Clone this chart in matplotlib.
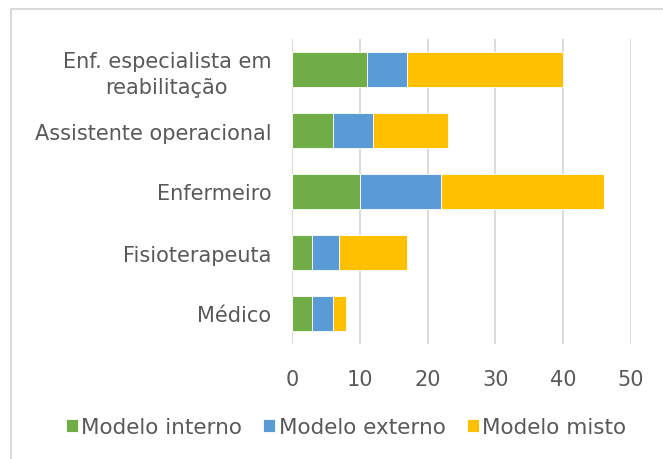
import matplotlib
matplotlib.use("Agg")
import matplotlib.pyplot as plt
from matplotlib.lines import Line2D

categories = ["Enf. especialista em\nreabilitação", "Assistente operacional",
              "Enfermeiro", "Fisioterapeuta", "Médico"]
interno = [11, 6, 10, 3, 3]
externo = [6, 6, 12, 4, 3]
misto = [23, 11, 24, 10, 2]
series_names = ["Modelo interno", "Modelo externo", "Modelo misto"]
xticks = [0, 10, 20, 30, 40, 50]

GREEN, BLUE, YELLOW = "#70ad47", "#5b9bd5", "#ffc000"
TXT = "#595959"

fig = plt.figure(figsize=(6.63, 4.6), dpi=100)
ax = fig.add_axes([292 / 663, 1 - 345 / 460, (631 - 292) / 663, (345 - 40) / 460])

ypos = list(range(len(categories)))[::-1]
left2 = [a + b for a, b in zip(interno, externo)]
h = 0.57
ax.barh(ypos, interno, height=h, color=GREEN, edgecolor="white", linewidth=0.6, label=series_names[0], zorder=3)
ax.barh(ypos, externo, left=interno, height=h, color=BLUE, edgecolor="white", linewidth=0.6, label=series_names[1], zorder=3)
ax.barh(ypos, misto, left=left2, height=h, color=YELLOW, edgecolor="white", linewidth=0.6, label=series_names[2], zorder=3)

ax.set_xlim(0, 50)
ax.set_ylim(-0.5, len(categories) - 0.5)
ax.set_xticks(xticks)
ax.set_yticks(ypos)
ax.set_yticklabels(categories, ha="right", multialignment="center", linespacing=1.35)
ax.tick_params(axis="y", length=0, pad=15, labelsize=15, labelcolor=TXT)
ax.tick_params(axis="x", length=0, pad=18, labelsize=15, labelcolor=TXT)
ax.grid(axis="x", color="#d9d9d9", linewidth=1.3, zorder=0)
for s in ax.spines.values():
    s.set_visible(False)

leg = fig.legend(loc="center", bbox_to_anchor=(346 / 663, 1 - 428 / 460), ncol=3,
                 frameon=False, fontsize=15.5, handlelength=0.55, handleheight=0.55,
                 handletextpad=0.15, columnspacing=1.0, labelcolor=TXT)

# figure border (only top and left edges visible)
fig.add_artist(Line2D([11 / 663, 11 / 663], [0, 1 - 10 / 460], transform=fig.transFigure, color="#d9d9d9", lw=1.5))
fig.add_artist(Line2D([11 / 663, 1], [1 - 10 / 460, 1 - 10 / 460], transform=fig.transFigure, color="#d9d9d9", lw=1.5))

fig.savefig("out.png", dpi=100)
